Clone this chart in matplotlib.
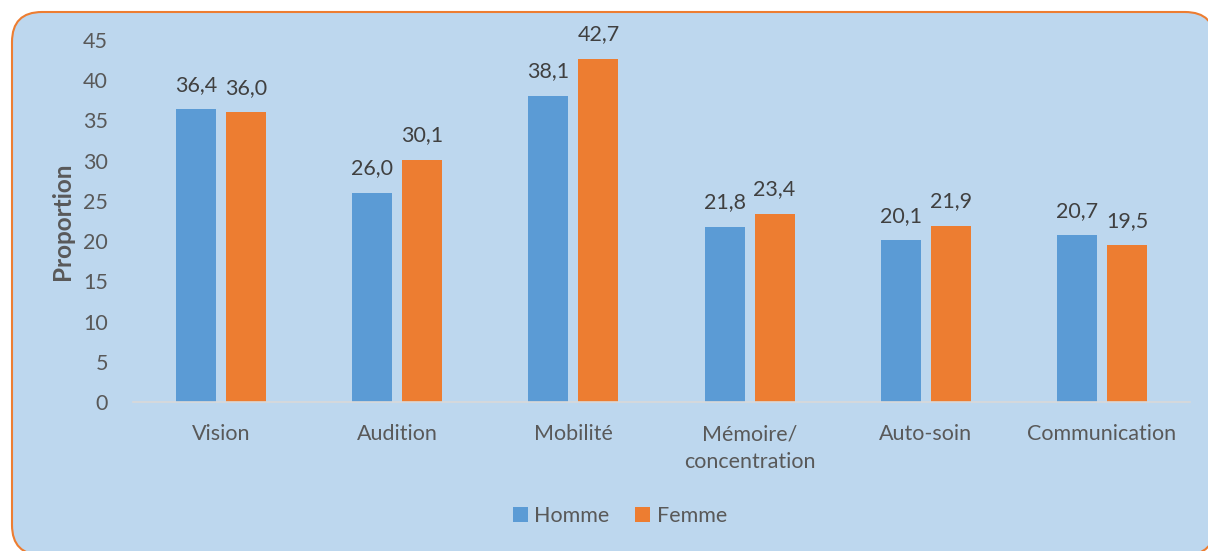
import matplotlib
matplotlib.use("Agg")
import matplotlib.pyplot as plt
import numpy as np
from matplotlib.patches import FancyBboxPatch
from matplotlib.transforms import IdentityTransform

categories = ["Vision", "Audition", "Mobilité", "Mémoire/\nconcentration", "Auto-soin", "Communication"]
homme = [36.4, 26.0, 38.1, 21.8, 20.1, 20.7]
femme = [36.0, 30.1, 42.7, 23.4, 21.9, 19.5]
yticks = [0, 5, 10, 15, 20, 25, 30, 35, 40, 45]

BLUE = "#5B9BD5"
ORANGE = "#ED7D31"
BG = "#BDD7EE"
TICK = "#595959"
LAB = "#404040"

plt.rcParams['font.family'] = ['Lato', 'DejaVu Sans']

W, H = 1208, 551
fig = plt.figure(figsize=(W/100, H/100), dpi=100)
fig.patch.set_facecolor("white")

box = FancyBboxPatch((12, -4), 1203, 543,
                     boxstyle="round,pad=0,rounding_size=30",
                     transform=IdentityTransform(), facecolor=BG,
                     edgecolor=ORANGE, linewidth=1.5, zorder=-10)
fig.patches.append(box)

ax = fig.add_axes([133/W, 1-402/H, (1190-133)/W, (402-40)/H])
ax.set_facecolor("none")
ax.set_zorder(5)

x = np.arange(len(categories))
bw = 0.227
off = 0.142
b1 = ax.bar(x - off, homme, bw, color=BLUE, label="Homme", zorder=2)
b2 = ax.bar(x + off, femme, bw, color=ORANGE, label="Femme", zorder=2)

FS = 15.5
for bars, vals in ((b1, homme), (b2, femme)):
    for r, v in zip(bars, vals):
        ax.annotate(f"{v:.1f}".replace(".", ","),
                    (r.get_x() + r.get_width()/2, v),
                    xytext=(0, 17.5), textcoords="offset points",
                    ha="center", va="center", fontsize=FS, color=LAB)

ax.set_xlim(-0.5, len(categories) - 0.5)
ax.set_ylim(0, 45)
ax.set_yticks(yticks)
ax.set_yticklabels([str(t) for t in yticks], fontsize=FS, color=TICK)
ax.set_xticks(x)
ax.set_xticklabels(categories, fontsize=FS, color=TICK, linespacing=1.5)
ax.tick_params(axis="both", length=0)
ax.tick_params(axis="y", pad=18)
ax.tick_params(axis="x", pad=16)
for s in ("top", "right", "left"):
    ax.spines[s].set_visible(False)
ax.spines["bottom"].set_color("#D9D9D9")
ax.spines["bottom"].set_linewidth(1.2)

fig.text(62/W, 1-221/H, "Proportion", rotation=90, ha="center", va="center",
         fontsize=17.5, fontweight="bold", color=TICK)

fig.legend(handles=[b1, b2], labels=["Homme", "Femme"],
           loc="center", bbox_to_anchor=(620/W, 1-516/H), ncol=2,
           frameon=False, fontsize=FS, handlelength=0.7, handleheight=0.7,
           handletextpad=0.3, columnspacing=1.2, labelcolor=TICK)

fig.savefig("out.png", dpi=100, facecolor="white")
